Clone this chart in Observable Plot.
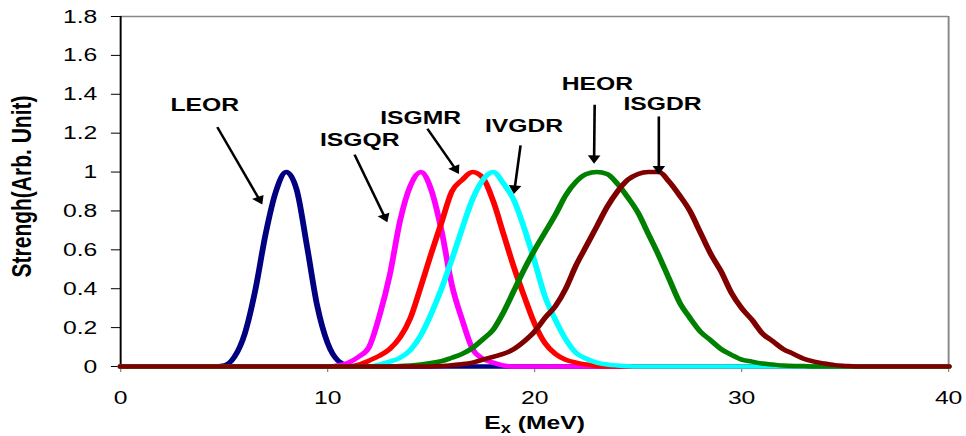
<!DOCTYPE html>
<html>
<head>
<meta charset="utf-8">
<script src="https://cdn.jsdelivr.net/npm/d3@7"></script>
<script src="https://cdn.jsdelivr.net/npm/@observablehq/plot@0.6"></script>
<style>
  html, body { margin: 0; padding: 0; background: #fff; overflow: hidden; }
  #chart { transform-origin: 0 0; }
</style>
</head>
<body>
<div id="chart"></div>
<script>
// ---- data ----
const xTicks = [0, 10, 20, 30, 40];
const yTicks = [0, 0.2, 0.4, 0.6, 0.8, 1, 1.2, 1.4, 1.6, 1.8];
const seriesNames  = ["LEOR", "ISGQR", "ISGMR", "IVGDR", "HEOR", "ISGDR"];
const seriesColors = ["#000080", "#FF00FF", "#FF0000", "#00FFFF", "#008000", "#800000"];

const leor = [[0,0],[4.5,0],[5,0.005],[5.5,0.05],[6,0.17],[6.5,0.39],[7,0.68],[7.5,0.9],[8,1.0],[8.5,0.91],[9,0.62],[9.5,0.31],[10,0.12],[10.5,0.03],[11,0.005],[11.5,0],[40,0]];
const isgqr = [[0,0],[10,0],[10.5,0.005],[11,0.02],[11.5,0.05],[12,0.1],[12.5,0.26],[13,0.47],[13.5,0.75],[14,0.93],[14.5,1.0],[15,0.91],[15.5,0.7],[16,0.42],[16.5,0.24],[17,0.09],[17.5,0.04],[18,0.02],[18.5,0.005],[19,0],[40,0]];
const isgmr = [[0,0],[11,0],[11.5,0.01],[12,0.03],[12.5,0.055],[13,0.09],[13.5,0.15],[14,0.25],[14.5,0.41],[15,0.58],[15.5,0.74],[16,0.9],[16.5,0.96],[17,1.0],[17.5,0.97],[18,0.85],[18.5,0.68],[19,0.51],[19.5,0.36],[20,0.22],[20.5,0.12],[21,0.065],[21.5,0.035],[22,0.02],[22.5,0.01],[23,0.003],[23.5,0],[40,0]];
const ivgdr = [[0,0],[12,0],[12.5,0.01],[13,0.025],[13.5,0.045],[14,0.085],[14.5,0.16],[15,0.27],[15.5,0.4],[16,0.55],[16.5,0.71],[17,0.86],[17.5,0.96],[18,1.0],[18.5,0.94],[19,0.855],[19.5,0.71],[20,0.54],[20.5,0.36],[21,0.24],[21.5,0.14],[22,0.07],[22.5,0.04],[23,0.02],[23.5,0.01],[24,0.005],[25,0],[40,0]];
const heor = [[0,0],[13,0],[13.5,0.003],[14,0.005],[14.5,0.01],[15,0.018],[15.5,0.027],[16,0.045],[16.5,0.065],[17,0.095],[17.5,0.14],[18,0.19],[18.5,0.28],[19,0.39],[19.5,0.5],[20,0.6],[20.5,0.69],[21,0.78],[21.5,0.88],[22,0.95],[22.5,0.99],[23,1.0],[23.5,0.99],[24,0.94],[24.5,0.87],[25,0.79],[25.5,0.68],[26,0.57],[26.5,0.45],[27,0.33],[27.5,0.25],[28,0.18],[28.5,0.135],[29,0.09],[29.5,0.06],[30,0.035],[30.5,0.025],[31,0.015],[31.5,0.01],[32,0.005],[33,0.002],[33.5,0],[40,0]];
const isgdr = [[0,0],[15,0],[15.5,0.003],[16,0.007],[16.5,0.012],[17,0.02],[17.5,0.035],[18,0.05],[18.5,0.065],[19,0.09],[19.5,0.13],[20,0.18],[20.5,0.25],[21,0.31],[21.5,0.4],[22,0.52],[22.5,0.62],[23,0.72],[23.5,0.82],[24,0.9],[24.5,0.96],[25,0.99],[25.5,1.0],[26,1.0],[26.5,0.95],[27,0.88],[27.5,0.8],[28,0.69],[28.5,0.58],[29,0.49],[29.5,0.38],[30,0.3],[30.5,0.24],[31,0.17],[31.5,0.13],[32,0.09],[32.5,0.065],[33,0.04],[33.5,0.025],[34,0.015],[34.5,0.007],[35,0.003],[35.5,0],[40,0]];

const labelX = [4.06, 11.55, 14.49, 19.49, 23.03, 26.18];
const labelY = [1.343, 1.163, 1.281, 1.235, 1.451, 1.35];
const arrowX1 = [4.67, 11.3, 14.82, 19.32, 22.9, 26.0];
const arrowY1 = [1.231, 1.09, 1.223, 1.137, 1.346, 1.286];
const arrowX2 = [6.84, 12.88, 16.34, 19.0, 22.87, 26.0];
const arrowY2 = [0.833, 0.742, 0.991, 0.888, 1.043, 0.988];

const xLabelMain = "E";
const xLabelSub = "x";
const xLabelRest = " (MeV)";
const yLabel = "Strengh(Arb. Unit)";

// ---- layout (the reference is horizontally stretched) ----
const S = 1.3;
const W = 966 / S;
const H = 436;
const mLeft = 120 / S;
const mRight = W - 948 / S;
const mTop = 16;
const mBottom = 70;
const pxPerX = (W - mLeft - mRight) / 40;   // svg px per MeV
const pxPerY = (H - mTop - mBottom) / 1.8;  // svg px per unit
const tipBack = 5.5;                         // centroid-to-tip distance of head (px)

// ---- build tables ----
const seriesData = [leor, isgqr, isgmr, ivgdr, heor, isgdr];
const lines = seriesData.map((pts, i) =>
  Plot.line(pts.map(([x, y]) => ({x, y})), {
    x: "x", y: "y", stroke: seriesColors[i], strokeWidth: 4.5,
    curve: "monotone-x", strokeLinejoin: "round", strokeLinecap: "round"
  })
);
const annotations = seriesNames.map((name, i) => {
  const dxp = (arrowX2[i] - arrowX1[i]) * pxPerX;
  const dyp = -(arrowY2[i] - arrowY1[i]) * pxPerY; // screen down positive
  const len = Math.hypot(dxp, dyp);
  const ux = dxp / len, uy = dyp / len;
  return {
    name, lx: labelX[i], ly: labelY[i],
    x1: arrowX1[i], y1: arrowY1[i], x2: arrowX2[i], y2: arrowY2[i],
    hx: arrowX2[i] - ux * tipBack / pxPerX,
    hy: arrowY2[i] + uy * tipBack / pxPerY,
    angle: Math.atan2(dxp, -dyp) * 180 / Math.PI
  };
});
const xLabelText = xLabelMain + xLabelSub + xLabelRest;

const chart = Plot.plot({
  width: W,
  height: H,
  marginLeft: mLeft,
  marginRight: mRight,
  marginTop: mTop,
  marginBottom: mBottom,
  style: {fontFamily: "'Liberation Sans', Arial, sans-serif", fontSize: "19px", color: "#000", background: "#fff"},
  x: {domain: [0, 40]},
  y: {domain: [0, 1.8]},
  marks: [
    Plot.ruleY([1.8], {stroke: "#888", strokeWidth: 1.5}),
    Plot.ruleX([40], {stroke: "#888", strokeWidth: 1.5}),
    Plot.axisX({ticks: xTicks, tickSize: 6, tickPadding: 18, stroke: "#888", fill: "#000", label: null, tickFormat: d => String(d)}),
    Plot.axisY({ticks: yTicks, tickSize: 7, tickPadding: 11, stroke: "#000", fill: "#000", label: null, tickFormat: d => String(d)}),
    Plot.ruleX([0], {stroke: "#000", strokeWidth: 1.5}),
    ...lines,
    Plot.link(annotations, {x1: "x1", y1: "y1", x2: "hx", y2: "hy", stroke: "#000", strokeWidth: 2}),
    Plot.dot(annotations, {x: "hx", y: "hy", symbol: "triangle", r: 3.6, rotate: "angle", fill: "#000", stroke: "none"}),
    Plot.text(annotations, {x: "lx", y: "ly", text: "name", fontWeight: "bold", fontSize: 19, textAnchor: "middle", lineAnchor: "middle", fill: "#000"}),
    Plot.text([xLabelText], {frameAnchor: "bottom", text: d => d, dy: 56, fontWeight: "bold", fontSize: 19, textAnchor: "middle", lineAnchor: "middle", fill: "#000"}),
    Plot.text([yLabel], {frameAnchor: "left", text: d => d, dx: -75.4, dy: -5, rotate: -90, fontWeight: "bold", fontSize: 21, textAnchor: "middle", lineAnchor: "middle", fill: "#000"})
  ]
});

// render the subscript of the x-axis title
d3.select(chart).selectAll("text").filter(function () { return this.textContent === xLabelText; })
  .each(function () {
    const t = d3.select(this);
    t.text(null);
    t.append("tspan").text(xLabelMain);
    t.append("tspan").attr("font-size", 14).attr("dy", 4).text(xLabelSub);
    t.append("tspan").attr("dy", -4).text(xLabelRest);
  });

const holder = document.getElementById("chart");
holder.appendChild(chart);
holder.style.transform = `scale(${S}, 1)`;
</script>
</body>
</html>
